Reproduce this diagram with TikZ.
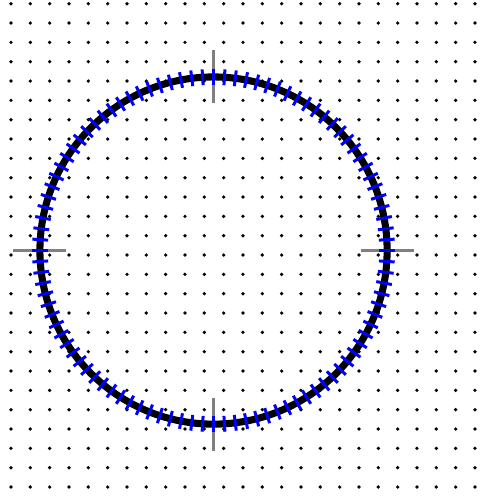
\documentclass[tikz,border=0pt]{standalone}
\usepackage{tikz}
\tikzset{
  % dot grid
  griddot/.style={fill=black},
  % main ring
  rim/.style={draw=black,line width=5.2pt},
  % small blue marks along the ring
  notch/.style={draw=blue,line width=2.2pt},
  % gray marks at the four cardinal points
  axistick/.style={draw=gray,line width=2.2pt}
}
\begin{document}
\begin{tikzpicture}[x=0.5cm,y=0.5cm]
  \useasboundingbox (-11.045,-12.80) rectangle (14.41,12.96);
  \fill[white] (-11.045,-12.80) rectangle (14.41,12.96);

  % --- dot grid ---
  \foreach \i in {0,...,24}{
    \foreach \j in {0,...,25}{
      \fill[griddot] ({-10.476+\i},{12.768-\j}) circle (0.048cm);
    }
  }

  % --- cardinal ticks ---
  \foreach \a in {0,90,180,270}{
    \draw[axistick] (\a:7.65) -- (\a:10.35);
  }

  % --- ring ---
  \coordinate (c) at (0,0);
  \draw[rim] (c) circle (8.98);

  % --- notches ---
  \foreach \k in {0,...,99}{
    \draw[notch] ({\k*3.6}:8.57) -- ({\k*3.6}:9.39);
  }
\end{tikzpicture}
\end{document}
